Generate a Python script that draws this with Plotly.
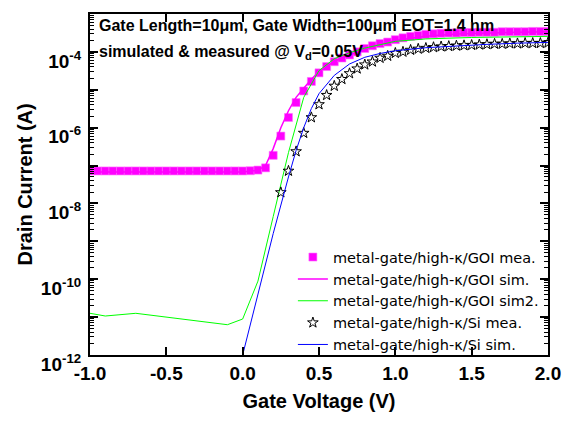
import plotly.graph_objects as go

# ---- data ----
vg_goi_mea = [-1.0, -0.95, -0.9, -0.85, -0.8, -0.75, -0.7, -0.65, -0.6, -0.55, -0.5, -0.45, -0.4, -0.35, -0.3,
              -0.25, -0.2, -0.15, -0.1, -0.05, 0.0, 0.05, 0.1, 0.15, 0.2, 0.25, 0.3, 0.35, 0.4, 0.45, 0.5,
              0.55, 0.6, 0.65, 0.7, 0.75, 0.8, 0.85, 0.9, 0.95, 1.0, 1.05, 1.1, 1.15, 1.2, 1.25, 1.3, 1.35,
              1.4, 1.45, 1.5, 1.55, 1.6, 1.65, 1.7, 1.75, 1.8, 1.85, 1.9, 1.95, 2.0]
id_goi_mea = [7.2e-8, 7.2e-8, 7.2e-8, 7.2e-8, 7.2e-8, 7.2e-8, 7.2e-8, 7.2e-8, 7.2e-8, 7.2e-8, 7.2e-8, 7.2e-8,
              7.2e-8, 7.2e-8, 7.2e-8, 7.2e-8, 7.2e-8, 7.2e-8, 7.2e-8, 7.2e-8, 7.2e-8, 7.3e-8, 7.6e-8, 8.7e-8,
              1.86e-7, 6.0e-7, 1.86e-6, 4.6e-6, 9.3e-6, 1.66e-5, 2.8e-5, 4.1e-5, 5.5e-5, 6.9e-5, 8.3e-5,
              1.0e-4, 1.23e-4, 1.45e-4, 1.66e-4, 1.82e-4, 2.1e-4, 2.35e-4, 2.57e-4, 2.7e-4, 2.9e-4, 3.0e-4,
              3.1e-4, 3.16e-4, 3.16e-4, 3.24e-4, 3.24e-4, 3.3e-4, 3.3e-4, 3.3e-4, 3.4e-4, 3.4e-4, 3.4e-4,
              3.4e-4, 3.47e-4, 3.47e-4, 3.47e-4]

vg_goi_sim = [-1.0, 0.0, 0.1, 0.15, 0.2, 0.25, 0.3, 0.35, 0.4, 0.45, 0.5, 0.6, 0.7, 0.8, 0.9, 1.0, 1.2, 1.4,
              1.6, 1.8, 2.0]
id_goi_sim = [6.8e-8, 6.8e-8, 7.5e-8, 1.0e-7, 2.8e-7, 1.0e-6, 2.8e-6, 6.3e-6, 1.1e-5, 1.9e-5, 3.0e-5, 5.6e-5,
              8.3e-5, 1.17e-4, 1.6e-4, 2.0e-4, 2.6e-4, 2.95e-4, 3.16e-4, 3.3e-4, 3.4e-4]

vg_goi_sim2 = [-1.0, -0.9, -0.7, -0.5, -0.35, -0.1, 0.0, 0.1, 0.2, 0.3, 0.4, 0.5, 0.6, 0.7, 0.8, 1.0, 1.2,
               1.5, 2.0]
id_goi_sim2 = [1.26e-11, 1.07e-11, 1.26e-11, 1.0e-11, 8.5e-12, 6.3e-12, 8.9e-12, 8.9e-11, 4.5e-9, 2.2e-7,
               6.3e-6, 3.2e-5, 6.6e-5, 9.5e-5, 1.26e-4, 1.9e-4, 2.2e-4, 2.4e-4, 2.57e-4]

vg_si_mea = [0.25, 0.3, 0.35, 0.4, 0.45, 0.5, 0.55, 0.6, 0.65, 0.7, 0.75, 0.8, 0.85, 0.9, 0.95, 1.0, 1.05,
             1.1, 1.15, 1.2, 1.25, 1.3, 1.35, 1.4, 1.45, 1.5, 1.55, 1.6, 1.65, 1.7, 1.75, 1.8, 1.85, 1.9,
             1.95, 2.0]
id_si_mea = [1.95e-8, 7.2e-8, 2.35e-7, 7.2e-7, 1.86e-6, 4.1e-6, 7.2e-6, 1.26e-5, 1.9e-5, 2.7e-5, 3.6e-5,
             4.6e-5, 5.5e-5, 6.9e-5, 7.8e-5, 9.3e-5, 1.0e-4, 1.12e-4, 1.2e-4, 1.26e-4, 1.32e-4, 1.38e-4,
             1.41e-4, 1.45e-4, 1.48e-4, 1.51e-4, 1.55e-4, 1.58e-4, 1.62e-4, 1.62e-4, 1.66e-4, 1.66e-4,
             1.7e-4, 1.7e-4, 1.7e-4, 1.74e-4]

vg_si_sim = [0.0, 0.1, 0.2, 0.3, 0.35, 0.4, 0.45, 0.5, 0.6, 0.7, 0.8, 0.9, 1.0, 1.2, 1.4, 1.6, 1.8, 2.0]
id_si_sim = [1.0e-12, 4.0e-11, 1.6e-9, 5.0e-8, 2.5e-7, 1.0e-6, 3.2e-6, 7.9e-6, 2.4e-5, 4.8e-5, 7.2e-5, 9.1e-5,
             1.07e-4, 1.29e-4, 1.45e-4, 1.58e-4, 1.7e-4, 1.78e-4]

x_ticks = [-1.0, -0.5, 0.0, 0.5, 1.0, 1.5, 2.0]
x_ticklabels = ["-1.0", "-0.5", "0.0", "0.5", "1.0", "1.5", "2.0"]
y_ticks = [1e-12, 1e-11, 1e-10, 1e-9, 1e-8, 1e-7, 1e-6, 1e-5, 1e-4, 1e-3]
y_ticklabels = ["10<sup>-12</sup>", "", "10<sup>-10</sup>", "", "10<sup>-8</sup>", "",
                "10<sup>-6</sup>", "", "10<sup>-4</sup>", ""]
y_minor = [k * 10.0 ** n for n in range(-12, -3) for k in range(2, 10)]

FONT = "Arial, Liberation Sans, sans-serif"
LEGFONT = "DejaVu Sans, Arial, sans-serif"
MAG = "#ff00ff"
GRN = "#00ff00"
BLU = "#0000ff"

fig = go.Figure()
fig.add_trace(go.Scatter(x=vg_goi_mea, y=id_goi_mea, mode="markers", name="metal-gate/high-κ/GOI mea.",
                         marker=dict(symbol="square", size=8, color=MAG, line=dict(width=0.6, color="#ff70ff"))))
fig.add_trace(go.Scatter(x=vg_goi_sim, y=id_goi_sim, mode="lines", name="metal-gate/high-κ/GOI sim.",
                         line=dict(color=MAG, width=1.5)))
fig.add_trace(go.Scatter(x=vg_goi_sim2, y=id_goi_sim2, mode="lines", name="metal-gate/high-κ/GOI sim2.",
                         line=dict(color=GRN, width=1)))
fig.add_trace(go.Scatter(x=vg_si_mea, y=id_si_mea, mode="markers", name="metal-gate/high-κ/Si mea.",
                         marker=dict(symbol="star-open", size=8, color="black", line=dict(width=1, color="black"))))
fig.add_trace(go.Scatter(x=vg_si_sim, y=id_si_sim, mode="lines", name="metal-gate/high-κ/Si sim.",
                         line=dict(color=BLU, width=1)))

fig.update_layout(
    width=573, height=421,
    margin=dict(l=90, r=18, t=13, b=59),
    paper_bgcolor="white", plot_bgcolor="white",
    font=dict(family=FONT, color="black"),
    showlegend=True,
    legend=dict(x=0.443, y=-0.018, xanchor="left", yanchor="bottom", bgcolor="rgba(0,0,0,0)",
                font=dict(family=LEGFONT, size=14.5, color="black"), tracegroupgap=0,
                itemwidth=30),
)
fig.update_xaxes(
    range=[-1.0, 2.0], tickmode="array", tickvals=x_ticks, ticktext=x_ticklabels,
    ticks="inside", ticklen=8, tickwidth=1.5, tickcolor="black",
    showline=True, linecolor="black", linewidth=2, mirror="ticks",
    showgrid=False, zeroline=False,
    tickfont=dict(family=FONT, size=19, color="black", weight="bold"),
    title=dict(text="Gate Voltage (V)", font=dict(family=FONT, size=20, color="black", weight="bold"), standoff=11),
)
fig.update_yaxes(
    type="log", range=[-12, -3], tickmode="array", tickvals=y_ticks, ticktext=y_ticklabels,
    ticks="inside", ticklen=8, tickwidth=1.5, tickcolor="black",
    minor=dict(tickmode="array", tickvals=y_minor, ticks="inside", ticklen=4, tickwidth=1, tickcolor="black",
               showgrid=False),
    showline=True, linecolor="black", linewidth=2, mirror="ticks",
    showgrid=False, zeroline=False,
    ticklabelstandoff=3, ticklabelshift=9,
    tickfont=dict(family=FONT, size=19, color="black", weight="bold"),
)

fig.add_annotation(xref="paper", yref="paper", x=(23 - 90) / 465, y=0.5, xanchor="center", yanchor="middle",
                   showarrow=False, textangle=-90, text="Drain Current (A)",
                   font=dict(family=FONT, size=20, color="black", weight="bold"))
fig.add_annotation(xref="paper", yref="paper", x=(97 - 90) / 465, y=(362 - 25) / 349, xanchor="left",
                   yanchor="middle", showarrow=False,
                   text="Gate Length=10μm, Gate Width=100μm EOT=1.4 nm",
                   font=dict(family=FONT, size=16, color="black", weight="bold"))
fig.add_annotation(xref="paper", yref="paper", x=(97 - 90) / 465, y=(362 - 52) / 349, xanchor="left",
                   yanchor="middle", showarrow=False,
                   text="simulated & measured @ V<sub>d</sub>=0.05V",
                   font=dict(family=FONT, size=16, color="black", weight="bold"))

fig.write_html("out.html")
